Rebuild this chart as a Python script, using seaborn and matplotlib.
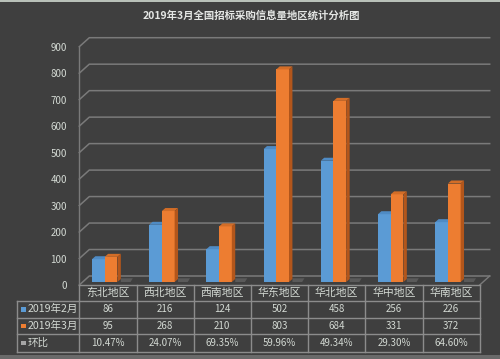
import matplotlib
matplotlib.use('Agg')
import matplotlib.pyplot as plt
import seaborn as sns
import pandas as pd
from matplotlib.patches import Polygon, Rectangle
from matplotlib.lines import Line2D

# ---------------- data ----------------
regions = ['东北地区', '西北地区', '西南地区', '华东地区', '华北地区', '华中地区', '华南地区']
series = ['2019年2月', '2019年3月']
feb = [86, 216, 124, 502, 458, 256, 226]
mar = [95, 268, 210, 803, 684, 331, 372]
mom_label = '环比'
mom = ['10.47%', '24.07%', '69.35%', '59.96%', '49.34%', '29.30%', '64.60%']
yticks = [0, 100, 200, 300, 400, 500, 600, 700, 800, 900]
title = '2019年3月全国招标采购信息量地区统计分析图'

# ---------------- style ----------------
plt.rcParams['font.family'] = ['Noto Sans CJK SC', 'DejaVu Sans']
BG = '#3f3f3f'
BLUE, ORANGE, GRAYKEY = '#5b9bd5', '#ed7d31', '#a5a5a5'
BLUE_TOP = '#4f8bc4'
ORANGE_TOP, ORANGE_SIDE = '#d36d27', '#b3561b'
GRID = '#7a7a7a'
TLINE = '#8c8c8c'
TXT = '#d3d9d3'

W, H = 500, 359
fig = plt.figure(figsize=(W / 100, H / 100), dpi=100, facecolor=BG)

def fx(x):
    return x / W

def fy(y):
    return 1 - y / H

L, R = 79.3, 479.7
TOP, BOT = 46.7, 285.0
ax = fig.add_axes([fx(L), fy(BOT), (R - L) / W, (BOT - TOP) / H])
ax.set_facecolor(BG)

df = pd.DataFrame({
    'region': regions * 2,
    'month': [series[0]] * len(regions) + [series[1]] * len(regions),
    'value': feb + mar,
})
sns.barplot(data=df, x='region', y='value', hue='month', order=regions,
            hue_order=series, palette=[BLUE, ORANGE], width=0.445,
            saturation=1, legend=False, ax=ax, errorbar=None)

ax.set_xlim(-0.5, len(regions) - 0.5)
ax.set_ylim(0, 900)
ax.set_yticks(yticks)
ax.set_yticklabels([str(t) for t in yticks], fontsize=7.0, color=TXT)
ax.tick_params(axis='y', length=0, pad=9)
ax.set_xticks([])
ax.set_xlabel('')
ax.set_ylabel('')
for s in ax.spines.values():
    s.set_visible(False)

# 3D offsets (data units)
px_x = (R - L) / len(regions)          # px per category
px_y = (BOT - TOP) / 900.0             # px per value unit
wall_dx, wall_dy = 10 / px_x, 9 / px_y
bar_dx, bar_dy = -3.2 / px_x, 3.0 / px_y
dep_dx, dep_dy = 3.4 / px_x, 3.0 / px_y

x0, x1 = -0.5, len(regions) - 0.5
# back-wall gridlines with left-wall diagonals
for v in yticks:
    ax.add_line(Line2D([x0, x0 + wall_dx, x1 + wall_dx], [v, v + wall_dy, v + wall_dy],
                       color=GRID, lw=1.1, clip_on=False, zorder=1))
# left wall front edge
ax.add_line(Line2D([x0, x0], [0, 900], color=GRID, lw=1.0, clip_on=False, zorder=1))
# floor right diagonal
ax.add_line(Line2D([x1, x1 + wall_dx], [0, wall_dy], color=GRID, lw=1.0, clip_on=False, zorder=1))

# 3D faces on bars
for p in ax.patches:
    fc = p.get_facecolor()
    is_orange = fc[0] > 0.8
    p.set_x(p.get_x() + bar_dx)
    p.set_y(bar_dy)
    p.set_edgecolor('none')
    p.set_zorder(3 if is_orange else 2.4)
    bx, bw, top = p.get_x(), p.get_width(), bar_dy + p.get_height()
    tcol = ORANGE_TOP if is_orange else BLUE_TOP
    ax.add_patch(Polygon([(bx, top), (bx + bw, top), (bx + bw + dep_dx, top + dep_dy),
                          (bx + dep_dx, top + dep_dy)], closed=True, facecolor=tcol,
                         edgecolor='none', zorder=p.get_zorder() + 0.05, clip_on=False))
    if is_orange:
        ax.add_patch(Polygon([(bx + bw, bar_dy), (bx + bw, top), (bx + bw + dep_dx, top + dep_dy),
                              (bx + bw + dep_dx, bar_dy + dep_dy)], closed=True,
                             facecolor=ORANGE_SIDE, edgecolor='none',
                             zorder=p.get_zorder() + 0.05, clip_on=False))
        # floor shadow
        sx = bx + bw + dep_dx
        ax.add_patch(Polygon([(sx, bar_dy), (sx + 0.17, bar_dy), (sx + 0.17 + 0.04, bar_dy + 14),
                              (sx, bar_dy + 14)], closed=True, facecolor='#5a5a5a',
                             edgecolor='none', zorder=1.5, clip_on=False))

# ---------------- title ----------------
fig.text(fx(251), fy(15), title, ha='center', va='center', fontsize=7.5,
         fontweight='bold', color='#e4e6e4')

# ---------------- data table ----------------
LEG_L = 17.3
rows_y = [284.5, 300.7, 317.7, 334.3, 351.7]
col_x = [L + i * px_x for i in range(len(regions) + 1)]

def hline(y, xa, xb):
    fig.add_artist(Line2D([fx(xa), fx(xb)], [fy(y), fy(y)], color=TLINE, lw=1.0))

def vline(x, ya, yb):
    fig.add_artist(Line2D([fx(x), fx(x)], [fy(ya), fy(yb)], color=TLINE, lw=1.0))

hline(rows_y[0], L, R)
for y in rows_y[1:]:
    hline(y, LEG_L, R)
vline(LEG_L, rows_y[1], rows_y[-1])
for x in col_x:
    vline(x, rows_y[0], rows_y[-1])

centers = [(rows_y[i] + rows_y[i + 1]) / 2 for i in range(4)]
for i, reg in enumerate(regions):
    cx = (col_x[i] + col_x[i + 1]) / 2
    fig.text(fx(cx), fy(centers[0]), reg, ha='center', va='center', fontsize=7.8, color=TXT)
    fig.text(fx(cx), fy(centers[1]), str(feb[i]), ha='center', va='center', fontsize=7.0, color=TXT)
    fig.text(fx(cx), fy(centers[2]), str(mar[i]), ha='center', va='center', fontsize=7.0, color=TXT)
    fig.text(fx(cx), fy(centers[3]), mom[i], ha='center', va='center', fontsize=7.0, color=TXT)

legend_rows = [(series[0], BLUE), (series[1], ORANGE), (mom_label, GRAYKEY)]
for (lab, col), cy in zip(legend_rows, centers[1:]):
    fig.add_artist(Rectangle((fx(21.3), fy(cy + 2.4)), 4.8 / W, 4.8 / H, facecolor=col,
                             edgecolor='none', transform=fig.transFigure))
    fig.text(fx(27.5), fy(cy), lab, ha='left', va='center', fontsize=7.6, color=TXT)

# frame accents
fig.add_artist(Rectangle((0, fy(1.5)), 1, 1.5 / H, facecolor='#b8c0b8', edgecolor='none',
                         transform=fig.transFigure))
fig.add_artist(Rectangle((0, 0), 1, 4 / H, facecolor='#6a6a6a', edgecolor='none',
                         transform=fig.transFigure))

fig.savefig('out.png', dpi=100, facecolor=BG)
